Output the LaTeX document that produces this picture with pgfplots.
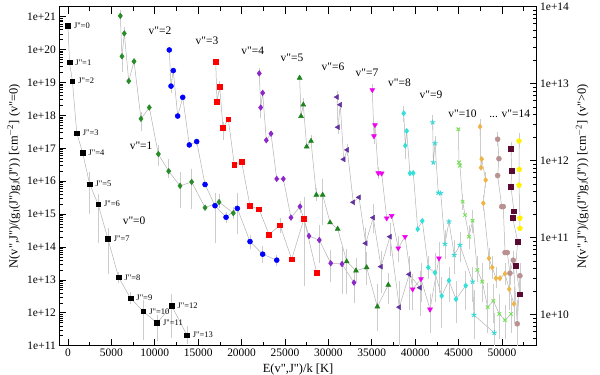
\documentclass[border=0pt]{standalone}
\usepackage{pgfplots}
\pgfplotsset{compat=1.18}
\usepackage{pgfplotstable}
\usepackage{fontspec}
\setmainfont{Liberation Serif}
\newfontfamily\plainserif{Liberation Serif}
\newcommand\q{{\plainserif\symbol{34}}}

\definecolor{cv1}{RGB}{40,140,40}
\definecolor{cv2}{RGB}{0,0,255}
\definecolor{cv3}{RGB}{255,0,0}
\definecolor{cv4}{RGB}{140,40,200}
\definecolor{cv5}{RGB}{30,130,30}
\definecolor{cv6}{RGB}{100,50,160}
\definecolor{cv7}{RGB}{240,0,240}
\definecolor{cv8}{RGB}{50,225,215}
\definecolor{cv9}{RGB}{60,215,215}
\definecolor{cv10}{RGB}{120,225,90}
\definecolor{cv11}{RGB}{240,180,70}
\definecolor{cv12}{RGB}{185,145,145}
\definecolor{cv13}{RGB}{90,10,50}
\definecolor{cv14}{RGB}{255,240,0}

\newcommand\buildminor[3]{%
  \xdef#1{#2}%
  \foreach \e in {#3}{\foreach \m in {2,...,9}{\xdef#1{#1,\m e\e}}}%
}
\buildminor\lminL{9e10}{11,...,20}
\buildminor\lminR{3e9}{9,...,13}

\pgfplotstableread{
E N lo hi
0 5.4e20 5.4e20 5.4e20
170 4.1e19 4.1e19 4.1e19
510 1.1e19 1.1e19 1.1e19
1015 2.9e17 2.9e17 2.9e17
1680 7.4e16 7.4e16 7.4e16
2500 8.1e15 1.1e15 1.77e16
3470 2.0e15 1.45e14 3.8e15
4590 1.8e14 1.66e13 3.45e14
5830 1.2e13 8.7e12 1.6e13
7200 2.8e12 2.0e12 4.0e12
8680 1.1e12 1.68e11 2.17e12
10260 4.9e11 1.5e11 7.6e11
11940 1.65e12 1.9e11 3.5e12
13700 2.1e11 1.2e11 3.6e11
}\tvA

\pgfplotstableread{
E N lo hi
6030 7.6e13 6.6e13 8.6e13
6220 2.27e13 1.48e13 2.74e13
6490 4.5e13 4.0e13 5.2e13
7000 1.08e13 1.08e13 1.08e13
7610 1.95e13 1.95e13 1.95e13
8410 3.5e12 2.5e12 4.17e12
9370 4.9e12 4.9e12 4.9e12
10410 1.22e12 8.8e11 1.52e12
11600 7.3e11 6.2e11 1.02e12
12910 4.7e11 2.53e11 6.9e11
14250 5.3e11 2.43e11 7.6e11
15790 2.45e11 2.45e11 2.45e11
17400 2.9e11 2.5e11 3.5e11
19050 2.08e11 1.8e11 2.4e11
}\tvB

\pgfplotstableread{
E N lo hi
11670 2.74e13 2.74e13 2.74e13
11870 9.3e12 7.8e12 1.1e13
12130 1.48e13 1.48e13 1.48e13
12640 3.8e12 3.8e12 3.8e12
13220 6.65e12 6.65e12 6.65e12
13980 1.6e12 1.6e12 1.6e12
14830 1.77e12 1.77e12 1.77e12
15790 4.9e11 4.9e11 4.9e11
16940 2.6e11 8.9e10 3.7e11
18210 1.84e11 1.6e11 2.1e11
19510 2.4e11 1.15e11 3.7e11
20970 8.9e10 7.5e10 1.05e11
22430 6.1e10 4.8e10 7.5e10
24050 5.1e10 4.5e10 5.8e10
}\tvC

\pgfplotstableread{
E N lo hi
17020 1.91e13 1.91e13 1.91e13
17170 5.8e12 5.8e12 5.8e12
17480 9.1e12 8.0e12 1.05e13
17860 2.7e12 1.95e12 3.1e12
18470 3.45e12 3.45e12 3.45e12
19160 8.9e11 8.9e11 8.9e11
20010 9.6e11 9.6e11 9.6e11
20970 2.58e11 2.58e11 2.58e11
22010 2.34e11 2.34e11 2.34e11
23160 1.1e11 1.1e11 1.1e11
24430 1.45e11 1.2e11 1.75e11
25770 5.25e10 5.25e10 5.25e10
27190 1.75e11 2.43e10 3.25e11
28650 3.5e10 3.5e10 3.5e10
}\tvD

\pgfplotstableread{
E N lo hi
22040 1.36e13 1.2e13 1.55e13
22200 4.9e12 3.7e12 4.9e12
22430 7.6e12 7.6e12 7.6e12
22850 1.84e12 1.84e12 1.84e12
23390 2.24e12 2.24e12 2.24e12
24050 5.8e11 5.8e11 5.8e11
24810 5.8e11 5.8e11 5.8e11
25690 1.82e11 1.82e11 1.82e11
26730 2.53e11 2.2e11 2.9e11
27770 1.05e11 1.05e11 1.05e11
28950 9.3e10 4.9e10 1.39e11
30270 4.65e10 2.8e10 6.6e10
31570 4.55e10 1.9e10 7.3e10
32950 2.6e10 1.47e10 3.8e10
}\tvE

\pgfplotstableread{
E N lo hi
26690 1.19e13 1.19e13 1.19e13
26850 3.78e12 3.78e12 3.78e12
27110 5.33e12 4.6e12 6.2e12
27500 1.52e12 1.52e12 1.52e12
28000 1.8e12 1.6e12 2.1e12
28610 3.59e11 3.1e11 4.2e11
29340 3.59e11 1.54e11 5.6e11
30190 1.57e11 1.57e11 1.57e11
31070 1.3e11 1.3e11 1.3e11
32110 4.9e10 1.9e10 6.9e10
33180 3.72e10 2.8e10 5.2e10
34410 4.1e10 2.5e10 6.2e10
35640 1.27e10 6.3e9 2.43e10
36900 2.43e10 1.42e10 3.3e10
}\tvF

\pgfplotstableread{
E N lo hi
30990 6.7e12 5.8e12 7.8e12
31110 2.72e12 2.3e12 3.3e12
31370 5.33e12 5.33e12 5.33e12
31760 1.04e12 1.04e12 1.04e12
32180 1.38e12 1.2e12 1.6e12
32870 2.88e11 2.88e11 2.88e11
33530 3.34e11 3.34e11 3.34e11
34300 8.45e10 4.0e10 1.3e11
35170 1.82e11 1.2e11 2.6e11
36060 4.2e10 2.0e10 6.5e10
37100 1.03e11 6.0e10 1.5e11
38170 1.25e10 3.0e9 2.6e10
39320 3.34e10 1.2e10 5.5e10
40550 2.24e10 1.0e10 3.5e10
}\tvG

\pgfplotstableread{
E N lo hi
35060 8.3e12 6.5e12 9.5e12
35250 2.09e12 1.7e12 2.5e12
35370 2.91e12 2.91e12 2.91e12
35750 6.9e11 6.0e11 8.0e11
36140 6.86e11 6.86e11 6.86e11
36720 1.79e11 1.79e11 1.79e11
37290 1.93e11 1.93e11 1.93e11
38050 7.3e10 5.0e10 1.0e11
38830 1.03e11 1.03e11 1.03e11
39710 2.14e10 1.2e10 3.2e10
40670 2.91e10 1.5e10 4.5e10
41710 1.17e10 6.0e9 1.8e10
42740 5.4e10 2.0e10 8.5e10
}\tvH

\pgfplotstableread{
E N lo hi
38680 4.13e12 3.3e12 5.0e12
38860 1.57e12 1.1e12 1.57e12
39020 2.43e12 2.43e12 2.43e12
39400 6.86e11 6.86e11 6.86e11
39780 6.9e11 6.9e11 6.9e11
40290 1.29e11 1.29e11 1.29e11
40820 1.65e11 1.65e11 1.65e11
41510 4.1e10 3.0e10 5.5e10
42280 3.5e10 1.5e10 6.0e10
43050 1.75e10 7.0e9 3.0e10
43890 2.77e10 1.5e10 4.0e10
44700 1.59e10 8.0e9 2.6e10
45820 2.38e10 1.2e10 3.5e10
}\tvI

\pgfplotstableread{
E N lo hi
42020 3.15e12 2.6e12 3.8e12
42090 9.5e11 9.5e11 9.5e11
42280 1.68e12 1.4e12 2.0e12
42660 3.84e11 3.84e11 3.84e11
42940 3.78e11 3.78e11 3.78e11
43430 8.3e10 5.5e10 1.2e11
43890 1.62e11 1.62e11 1.62e11
44500 5.96e10 3.5e10 9.0e10
45160 8.0e10 5.0e10 1.15e11
46620 2.68e10 1.5e10 4.0e10
46770 9.9e9 5.0e9 2.0e10
49110 5.8e9 3.0e9 1.0e10
}\tvJ

\pgfplotstableread{
E N lo hi
44970 2.56e12 2.56e12 2.56e12
45050 9.5e11 9.5e11 9.5e11
45160 8.6e11 8.6e11 8.6e11
45470 2.94e11 2.4e11 3.6e11
45740 1.97e11 1.97e11 1.97e11
46200 1.03e11 7.5e10 1.4e11
46620 1.66e11 1.2e11 2.2e11
47150 3.8e10 2.8e10 5.5e10
47730 2.68e10 1.5e10 4.5e10
48350 1.25e10 6.0e9 2.5e10
49000 1.51e10 8.0e9 2.4e10
49690 1.02e10 5.0e9 1.8e10
50350 8.5e9 5.0e9 1.3e10
51040 1.02e10 6.0e9 1.6e10
}\tvK

\pgfplotstableread{
E N lo hi
47470 2.77e12 2.2e12 3.3e12
47580 8.1e11 8.1e11 8.1e11
47660 1.05e12 1.05e12 1.05e12
48120 5.6e11 4.6e11 6.8e11
47850 2.8e11 2.3e11 3.4e11
48500 5.4e10 4.0e10 7.0e10
48880 4.1e10 3.0e10 5.5e10
49310 2.97e10 2.3e10 4.0e10
49770 2.97e10 2.97e10 2.97e10
50350 3.4e10 2.5e10 4.5e10
50840 2.14e10 1.2e10 3.5e10
51380 1.38e10 8.0e9 2.2e10
}\tvL

\pgfplotstableread{
E N lo hi
49500 1.9e12 1.6e12 2.3e12
49650 1.06e12 1.06e12 1.06e12
49500 6.4e11 6.4e11 6.4e11
49970 2.53e11 2.53e11 2.53e11
50150 2.53e11 2.53e11 2.53e11
50350 6.4e10 6.4e10 6.4e10
50610 6.4e10 6.4e10 6.4e10
50920 3.45e10 2.5e10 4.5e10
51300 5.1e10 3.5e10 6.5e10
51760 7.6e9 4.0e9 1.5e10
52070 3.2e10 2.0e10 4.5e10
}\tvM

\pgfplotstableread{
E N lo hi
51030 1.43e12 1.2e12 1.7e12
51120 7.4e11 7.4e11 7.4e11
51030 4.6e11 4.6e11 4.6e11
51380 2.2e11 2.2e11 2.2e11
51230 1.82e11 1.82e11 1.82e11
51810 8.9e10 8.9e10 8.9e10
51580 4.3e10 4.3e10 4.3e10
52070 1.84e10 1.84e10 1.84e10
}\tvN

\pgfplotstableread{
E N lo hi
51960 1.8e12 1.5e12 2.2e12
51990 7.7e11 7.7e11 7.7e11
51960 4.8e11 4.8e11 4.8e11
52070 1.79e11 1.79e11 1.79e11
52070 1.32e11 1.32e11 1.32e11
}\tvO

\pgfplotsset{
  myax/.style={scale only axis, width=477.4bp, height=339bp,
    xmin=-1000, xmax=54000, tick align=inside,
    tick label style={font=\fontsize{11.5}{13}\selectfont},
    label style={font=\fontsize{12.5}{14}\selectfont},
    major tick length=7bp, minor tick length=4bp,
    every tick/.style={black, line width=0.6bp},
    axis line style={line width=0.9bp},
    /pgf/number format/assume math mode=true},
  myser/.style={draw=black!30, line width=0.5bp,
    error bars/y dir=both, error bars/y explicit,
    error bars/error bar style={black!20, line width=0.5bp},
    error bars/error mark options={black!20, mark size=1.3bp, line width=0.5bp}},
}
% #1 plot options, #2 mark options, #3 table
\newcommand\tplot[3]{\addplot[myser, #1, mark options={solid, #2}] table[x=E, y=N,
  y error plus expr={\thisrow{hi}-\thisrow{N}},
  y error minus expr={\thisrow{N}-\thisrow{lo}}] {#3};}

\begin{document}
\begin{tikzpicture}
\path[use as bounding box] (-59.3bp,-29.3bp) rectangle (540.7bp,345.7bp);
\begin{axis}[myax, ymode=log, ymin=1e11, ymax=2.01e21,
  xtick={0,5000,...,50000}, minor xtick={2500,7500,...,52500},
  scaled x ticks=false, xticklabel pos=lower,
  xticklabel style={/pgf/number format/1000 sep={}},
  ytick pos=left,
  ytick={1e11,1e12,1e13,1e14,1e15,1e16,1e17,1e18,1e19,1e20,1e21},
  yticklabels={1e+11,1e+12,1e+13,1e+14,1e+15,1e+16,1e+17,1e+18,1e+19,1e+20,1e+21},
  minor ytick/.expanded={\lminL},
  xlabel={E(v\q,J\q)/k [K]},
  ylabel={N(v\q,J\q)/(g\textsubscript{I}(J\q)g\textsubscript{J}(J\q)) [cm\textsuperscript{$-$2}] (v\q=0)}]
\tplot{mark=square*, mark size=2.3bp}{fill=black, draw=black}{\tvA}
\begin{scope}[font=\fontsize{8.5}{10}\selectfont]
\node[anchor=west, xshift=2.5bp] at (axis cs:0,5.4e20) {J\q=0};
\node[anchor=west, xshift=2.5bp] at (axis cs:170,4.1e19) {J\q=1};
\node[anchor=west, xshift=2.5bp] at (axis cs:510,1.1e19) {J\q=2};
\node[anchor=west, xshift=2.5bp] at (axis cs:1015,2.9e17) {J\q=3};
\node[anchor=west, xshift=2.5bp] at (axis cs:1680,7.4e16) {J\q=4};
\node[anchor=west, xshift=2.5bp] at (axis cs:2500,8.1e15) {J\q=5};
\node[anchor=west, xshift=2.5bp] at (axis cs:3470,2.0e15) {J\q=6};
\node[anchor=west, xshift=2.5bp] at (axis cs:4590,1.8e14) {J\q=7};
\node[anchor=west, xshift=2.5bp] at (axis cs:5830,1.2e13) {J\q=8};
\node[anchor=west, xshift=2.5bp] at (axis cs:7200,2.8e12) {J\q=9};
\node[anchor=west, xshift=2.5bp] at (axis cs:8680,1.1e12) {J\q=10};
\node[anchor=west, xshift=2.5bp] at (axis cs:10260,4.9e11) {J\q=11};
\node[anchor=west, xshift=2.5bp] at (axis cs:11940,1.65e12) {J\q=12};
\node[anchor=west, xshift=2.5bp] at (axis cs:13700,2.1e11) {J\q=13};
\end{scope}
\end{axis}
\begin{axis}[myax, ymode=log, ymin=3.95e9, ymax=1e14, hide x axis,
  ytick pos=right, yticklabel pos=right,
  ytick={1e10,1e11,1e12,1e13,1e14},
  yticklabels={1e+10,1e+11,1e+12,1e+13,1e+14},
  minor ytick/.expanded={\lminR},
  ylabel={N(v\q,J\q)/(g\textsubscript{I}(J\q)g\textsubscript{J}(J\q)) [cm\textsuperscript{$-$2}] (v\q\textgreater0)}]
\tplot{mark=diamond*, mark size=2.8bp}{fill=cv1, draw=cv1}{\tvB}
\tplot{mark=*, mark size=2.5bp}{fill=cv2, draw=cv2}{\tvC}
\tplot{mark=square*, mark size=2.3bp}{fill=cv3, draw=cv3}{\tvD}
\tplot{mark=diamond*, mark size=2.8bp}{fill=cv4, draw=cv4}{\tvE}
\tplot{mark=triangle*, mark size=2.8bp}{fill=cv5, draw=cv5}{\tvF}
\tplot{mark=triangle*, mark size=2.8bp}{fill=cv6, draw=cv6, rotate=90}{\tvG}
\tplot{mark=triangle*, mark size=2.8bp}{fill=cv7, draw=cv7, rotate=180}{\tvH}
\tplot{mark=diamond*, mark size=2.6bp}{fill=cv8, draw=cv8}{\tvI}
\tplot{mark=star, mark size=2.6bp}{draw=cv9, line width=1bp}{\tvJ}
\tplot{mark=x, mark size=2.4bp}{draw=cv10, line width=1bp}{\tvK}
\tplot{mark=diamond*, mark size=2.6bp}{fill=cv11, draw=cv11}{\tvL}
\tplot{mark=*, mark size=2.5bp}{fill=cv12, draw=cv12}{\tvM}
\tplot{mark=square*, mark size=2.3bp}{fill=cv13, draw=cv13}{\tvN}
\tplot{mark=pentagon*, mark size=2.6bp}{fill=cv14, draw=cv14}{\tvO}
\begin{scope}[font=\fontsize{11.5}{13}\selectfont]
\node at (axis description cs:0.1567,0.3676) {v\q=0};
\node at (axis description cs:0.1713,0.590) {v\q=1};
\node at (axis description cs:0.2109,0.9283) {v\q=2};
\node at (axis description cs:0.3094,0.8997) {v\q=3};
\node at (axis description cs:0.4053,0.8702) {v\q=4};
\node at (axis description cs:0.4874,0.8478) {v\q=5};
\node at (axis description cs:0.5733,0.8230) {v\q=6};
\node at (axis description cs:0.6445,0.8035) {v\q=7};
\node at (axis description cs:0.7126,0.7770) {v\q=8};
\node at (axis description cs:0.7786,0.7416) {v\q=9};
\node at (axis description cs:0.8446,0.6855) {v\q=10};
\node at (axis description cs:0.9434,0.6855) {... v\q=14};
\end{scope}
\end{axis}
\end{tikzpicture}
\end{document}
